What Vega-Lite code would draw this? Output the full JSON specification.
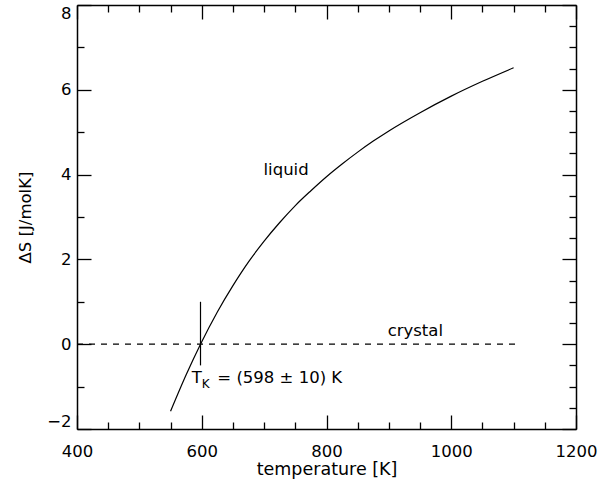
{
  "$schema": "https://vega.github.io/schema/vega-lite/v6.json",
  "autosize": "none",
  "width": 499,
  "height": 424,
  "padding": {"left": 77, "top": 5, "right": 35, "bottom": 60},
  "background": "white",
  "config": {
    "view": {"stroke": null},
    "font": "DejaVu Sans",
    "axis": {
      "grid": false,
      "domainColor": "black",
      "domainWidth": 1.5,
      "tickColor": "black",
      "tickWidth": 1.3,
      "labelColor": "black",
      "labelFont": "DejaVu Sans",
      "labelFontSize": 16.5,
      "titleFont": "DejaVu Sans",
      "titleFontSize": 16.5,
      "titleFontWeight": "normal",
      "titleColor": "black",
      "labelOverlap": false,
      "labelFlush": false
    }
  },
  "datasets": {
    "curve": [
      {"T": 550, "S": -1.58},
      {"T": 575, "S": -0.72},
      {"T": 598, "S": 0.0},
      {"T": 625, "S": 0.76},
      {"T": 650, "S": 1.38},
      {"T": 675, "S": 1.94},
      {"T": 700, "S": 2.43},
      {"T": 725, "S": 2.87},
      {"T": 750, "S": 3.27},
      {"T": 775, "S": 3.62},
      {"T": 800, "S": 3.95},
      {"T": 825, "S": 4.25},
      {"T": 850, "S": 4.53},
      {"T": 875, "S": 4.79},
      {"T": 900, "S": 5.03},
      {"T": 950, "S": 5.46},
      {"T": 1000, "S": 5.85},
      {"T": 1050, "S": 6.2},
      {"T": 1100, "S": 6.52}
    ],
    "crystal": [{"T": 400, "T2": 1105, "S": 0}],
    "tk": [{"T": 598, "S": -0.5, "S2": 1.0}],
    "labels": [
      {"T": 699, "S": 4.1, "label": "liquid"},
      {"T": 898, "S": 0.31, "label": "crystal"},
      {"T": 584, "S": -0.8, "label": "T"},
      {"T": 625, "S": -0.8, "label": "= (598 ± 10) K"}
    ],
    "sub": [{"T": 600, "S": -0.95, "label": "K"}]
  },
  "layer": [
    {
      "data": {"name": "curve"},
      "mark": {"type": "line", "color": "black", "strokeWidth": 1.2, "interpolate": "monotone"},
      "encoding": {
        "x": {
          "field": "T", "type": "quantitative",
          "scale": {"domain": [400, 1200], "nice": false, "zero": false},
          "axis": {
            "orient": "bottom",
            "title": "temperature [K]",
            "titleFontSize": 17.5,
            "values": [400,450,500,550,600,650,700,750,800,850,900,950,1000,1050,1100,1150,1200],
            "format": "d",
            "tickSize": {"condition": {"test": "datum.value % 200 === 0", "value": -14}, "value": -7},
            "labelExpr": "datum.value % 200 === 0 ? datum.label : ''",
            "labelPadding": 28,
            "titlePadding": -6
          }
        },
        "y": {
          "field": "S", "type": "quantitative",
          "scale": {"domain": [-2, 8], "nice": false, "zero": false},
          "axis": {
            "orient": "left",
            "title": "ΔS [J/molK]",
            "format": "d",
            "values": [-2,-1.5,-1,-0.5,0,0.5,1,1.5,2,2.5,3,3.5,4,4.5,5,5.5,6,6.5,7,7.5,8],
            "tickSize": {"condition": {"test": "datum.value % 2 === 0", "value": -14}, "value": -7},
            "labelExpr": "datum.value % 2 === 0 ? datum.label : ''",
            "labelFlush": true,
            "labelFlushOffset": 0,
            "labelPadding": 20,
            "titlePadding": 13
          }
        }
      }
    },
    {
      "data": {"name": "crystal"},
      "mark": {"type": "rule", "color": "black", "strokeWidth": 1.2, "strokeDash": [6, 6]},
      "encoding": {
        "x": {
          "field": "T", "type": "quantitative",
          "axis": {
            "orient": "top", "title": null, "labels": false,
            "values": [400,450,500,550,600,650,700,750,800,850,900,950,1000,1050,1100,1150,1200],
            "tickSize": {"condition": {"test": "datum.value % 200 === 0", "value": -14}, "value": -7}
          }
        },
        "x2": {"field": "T2"},
        "y": {
          "field": "S", "type": "quantitative",
          "axis": {
            "orient": "right", "title": null, "labels": false,
            "values": [-2,-1.5,-1,-0.5,0,0.5,1,1.5,2,2.5,3,3.5,4,4.5,5,5.5,6,6.5,7,7.5,8],
            "tickSize": {"condition": {"test": "datum.value % 2 === 0", "value": -14}, "value": -7}
          }
        }
      }
    },
    {
      "data": {"name": "tk"},
      "mark": {"type": "rule", "color": "black", "strokeWidth": 1.2},
      "encoding": {
        "x": {"field": "T", "type": "quantitative", "axis": null},
        "y": {"field": "S", "type": "quantitative", "axis": null},
        "y2": {"field": "S2"}
      }
    },
    {
      "data": {"name": "labels"},
      "mark": {"type": "text", "align": "left", "baseline": "middle", "fontSize": 16.5, "font": "DejaVu Sans", "color": "black"},
      "encoding": {
        "x": {"field": "T", "type": "quantitative", "axis": null},
        "y": {"field": "S", "type": "quantitative", "axis": null},
        "text": {"field": "label"}
      }
    },
    {
      "data": {"name": "sub"},
      "mark": {"type": "text", "align": "left", "baseline": "middle", "fontSize": 12, "font": "DejaVu Sans", "color": "black"},
      "encoding": {
        "x": {"field": "T", "type": "quantitative", "axis": null},
        "y": {"field": "S", "type": "quantitative", "axis": null},
        "text": {"field": "label"}
      }
    }
  ],
  "resolve": {"axis": {"x": "independent", "y": "independent"}}
}
